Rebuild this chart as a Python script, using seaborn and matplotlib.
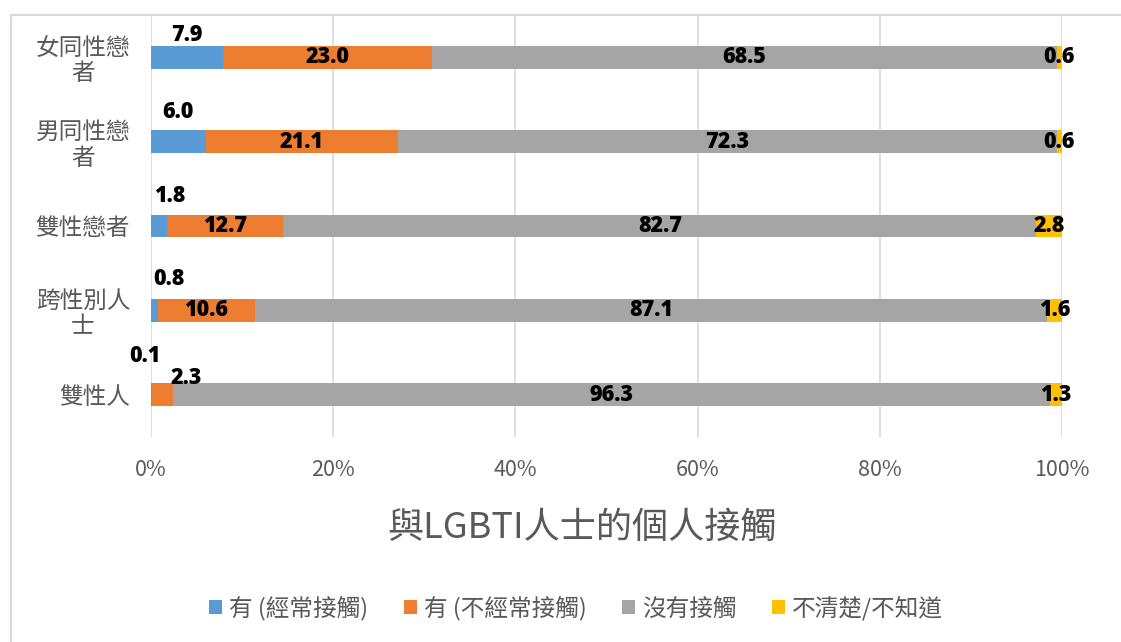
import numpy as np
import pandas as pd
import matplotlib
matplotlib.use("Agg")
import matplotlib.pyplot as plt
import seaborn as sns
from matplotlib.patches import Rectangle, Patch

categories = ["女同性戀\n者", "男同性戀\n者", "雙性戀者", "跨性別人\n士", "雙性人"]
series_names = ["有 (經常接觸)", "有 (不經常接觸)", "沒有接觸", "不清楚/不知道"]
frequent = [7.9, 6.0, 1.8, 0.8, 0.1]
infrequent = [23.0, 21.1, 12.7, 10.6, 2.3]
none_ = [68.5, 72.3, 82.7, 87.1, 96.3]
unknown = [0.6, 0.6, 2.8, 1.6, 1.3]
tick_labels = ["0%", "20%", "40%", "60%", "80%", "100%"]
axis_title = "與LGBTI人士的個人接觸"

colors = ["#5B9BD5", "#ED7D31", "#A5A5A5", "#FFC000"]
gray_txt = "#595959"

sns.set_theme(style="white")
plt.rcParams["font.family"] = ["Noto Sans CJK TC", "DejaVu Sans"]

fig = plt.figure(figsize=(11.21, 6.42), dpi=100)
ax = fig.add_axes([151/1121, 1-437/642, (1062-151)/1121, (437-15)/642])

vals = np.array([frequent, infrequent, none_, unknown])
totals = vals.sum(axis=0)
pct = vals / totals * 100
cum = np.cumsum(pct, axis=0)

# draw from the largest cumulative to smallest
for i in range(3, -1, -1):
    df = pd.DataFrame({"cat": categories, "v": cum[i]})
    sns.barplot(data=df, x="v", y="cat", orient="h", color=colors[i],
                width=0.27, ax=ax, saturation=1, linewidth=0, order=categories)

ax.set_xlim(0, 100)
ax.set_ylim(4.5, -0.5)
ax.set_xticks([0, 20, 40, 60, 80, 100])
ax.set_xticklabels(tick_labels, color=gray_txt, fontsize=15.5)
ax.tick_params(axis="x", pad=16, length=0)
ax.tick_params(axis="y", pad=15, length=0)
ax.set_yticks(range(len(categories)))
ax.set_yticklabels(categories, color=gray_txt, fontsize=17, fontweight="light",
                   multialignment="center", linespacing=1.15)
ax.set_ylabel("")
ax.set_xlabel(axis_title, color=gray_txt, fontsize=26, fontweight="light")
ax.xaxis.set_label_coords((582-151)/911, -(510-437)/422)
ax.xaxis.label.set_va("top")
ax.xaxis.label.set_ha("center")
ax.xaxis.grid(True, color="#D9D9D9", linewidth=1.2)
ax.set_axisbelow(True)
for s in ax.spines.values():
    s.set_visible(False)

num_font = dict(family=["Open Sans", "DejaVu Sans"], fontweight=800, fontsize=15.5, color="black")

# labels for segments 2-4 centered
for i in range(1, 4):
    for j in range(len(categories)):
        start = cum[i-1][j]
        center = start + pct[i][j] / 2
        dx, dy = 0, 0
        if i == 1 and j == 4:
            dx, dy = 2.6, -0.2
        ax.text(center + dx, j + dy, f"{vals[i][j]:.1f}", ha="center", va="center", **num_font)

# first series labels placed above the bars
offsets = [(0, -0.26), (0, -0.35), (1.2, -0.35), (1.6, -0.37), (-0.7, -0.46)]
for j in range(len(categories)):
    center = pct[0][j] / 2
    dx, dy = offsets[j]
    ax.text(center + dx, j + dy, f"{vals[0][j]:.1f}", ha="center", va="center", **num_font)

# legend
handles = [Patch(facecolor=c, edgecolor="none") for c in colors]
leg = fig.legend(handles, series_names, loc="center", ncol=4,
                 bbox_to_anchor=(576/1121, 1-608/642), frameon=False,
                 prop=dict(size=17, weight="light"), handlelength=0.55, handleheight=0.55,
                 handletextpad=0.3, columnspacing=1.5)
for t in leg.get_texts():
    t.set_color(gray_txt)

# chart border
fig.add_artist(Rectangle((11/1121, -0.05), 1.2, 1-15/642+0.05,
                         transform=fig.transFigure, fill=False,
                         edgecolor="#D9D9D9", linewidth=1.5))

fig.savefig("out.png", dpi=100)
